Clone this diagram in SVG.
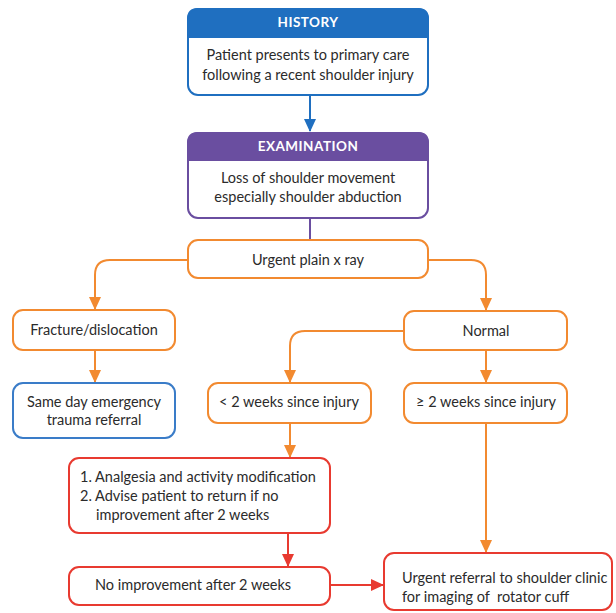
<svg xmlns="http://www.w3.org/2000/svg" width="616" height="613" viewBox="0 0 616 613">
<style>
.box{fill:#fff;stroke-width:2}
.t{font-family:Lato,"Open Sans",sans-serif;font-size:14.5px;fill:#2b2b2b}
.h{font-family:Lato,"Open Sans",sans-serif;font-size:13.5px;font-weight:bold;fill:#fff;letter-spacing:0.5px}
.c{text-anchor:middle}
.o{stroke:#f28a30;fill:none;stroke-width:2}
.r{stroke:#e83a30;fill:none;stroke-width:2}
</style>
<defs>
<marker id="ao" markerWidth="13" markerHeight="12" refX="12" refY="6" orient="auto" markerUnits="userSpaceOnUse"><path d="M0,0L13,6L0,12z" fill="#f28a30"/></marker>
<marker id="ar" markerWidth="13" markerHeight="12" refX="12" refY="6" orient="auto" markerUnits="userSpaceOnUse"><path d="M0,0L13,6L0,12z" fill="#e83a30"/></marker>
<marker id="ab" markerWidth="13" markerHeight="12" refX="12" refY="6" orient="auto" markerUnits="userSpaceOnUse"><path d="M0,0L13,6L0,12z" fill="#1f6fc0"/></marker>
</defs>
<rect width="616" height="613" fill="#fff"/>
<g id="connectors">
<line x1="310" y1="95" x2="310" y2="131" stroke="#1f6fc0" stroke-width="2" marker-end="url(#ab)"/>
<line x1="310" y1="218" x2="310" y2="240" stroke="#6a4ea0" stroke-width="2"/>
<path class="o" d="M187,260H110Q95,260 95,275V309" marker-end="url(#ao)"/>
<path class="o" d="M428,260H471Q486,260 486,275V310" marker-end="url(#ao)"/>
<line class="o" x1="95" y1="350" x2="95" y2="382" marker-end="url(#ao)"/>
<path class="o" d="M404,331H305Q290,331 290,346V382" marker-end="url(#ao)"/>
<line class="o" x1="486" y1="350" x2="486" y2="382" marker-end="url(#ao)"/>
<line class="o" x1="290" y1="423" x2="290" y2="457" marker-end="url(#ao)"/>
<line class="o" x1="486" y1="423" x2="486" y2="552" marker-end="url(#ao)"/>
<line class="r" x1="288" y1="533" x2="288" y2="566" marker-end="url(#ar)"/>
<line class="r" x1="330" y1="585" x2="383" y2="585" marker-end="url(#ar)"/>
</g>
<g id="history">
<rect x="188" y="9" width="240" height="86" rx="10" fill="#fff" stroke="#1f6fc0" stroke-width="2"/>
<path d="M188,37V19Q188,9 198,9H418Q428,9 428,19V37z" fill="#1f6fc0" stroke="#1f6fc0" stroke-width="2"/>
<text class="h c" x="308" y="27">HISTORY</text>
<text class="t c" x="308" y="60">Patient presents to primary care</text>
<text class="t c" x="308" y="80">following a recent shoulder injury</text>
</g>
<g id="examination">
<rect x="188" y="133" width="240" height="85" rx="10" fill="#fff" stroke="#6a4ea0" stroke-width="2"/>
<path d="M188,160V143Q188,133 198,133H418Q428,133 428,143V160z" fill="#6a4ea0" stroke="#6a4ea0" stroke-width="2"/>
<text class="h c" x="308" y="151">EXAMINATION</text>
<text class="t c" x="308" y="183">Loss of shoulder movement</text>
<text class="t c" x="308" y="202">especially shoulder abduction</text>
</g>
<g id="xray">
<rect class="box" x="188" y="240" width="240" height="38" rx="10" stroke="#f28a30"/>
<text class="t c" x="308" y="265">Urgent plain x ray</text>
</g>
<g id="fracture">
<rect class="box" x="13" y="310" width="162" height="40" rx="10" stroke="#f28a30"/>
<text class="t c" x="94" y="335">Fracture/dislocation</text>
</g>
<g id="sameday">
<rect class="box" x="13" y="383" width="162" height="55" rx="10" stroke="#3a7cc8"/>
<text class="t c" x="94" y="407">Same day emergency</text>
<text class="t c" x="94" y="425">trauma referral</text>
</g>
<g id="normal">
<rect class="box" x="404" y="311" width="163" height="39" rx="10" stroke="#f28a30"/>
<text class="t c" x="486" y="336">Normal</text>
</g>
<g id="lt2">
<rect class="box" x="208" y="383" width="163" height="40" rx="10" stroke="#f28a30"/>
<text class="t c" x="289" y="407">&lt; 2 weeks since injury</text>
</g>
<g id="ge2">
<rect class="box" x="404" y="383" width="163" height="40" rx="10" stroke="#f28a30"/>
<text class="t c" x="486" y="407">≥ 2 weeks since injury</text>
</g>
<g id="analgesia">
<rect class="box" x="69" y="458" width="261" height="75" rx="10" stroke="#e83a30"/>
<text class="t" x="80" y="482">1. Analgesia and activity modification</text>
<text class="t" x="80" y="501">2. Advise patient to return if no</text>
<text class="t" x="96" y="520">improvement after 2 weeks</text>
</g>
<g id="noimprovement">
<rect class="box" x="69" y="567" width="261" height="38" rx="10" stroke="#e83a30"/>
<text class="t" x="95" y="590">No improvement after 2 weeks</text>
</g>
<g id="referral">
<rect class="box" x="384" y="553" width="228" height="57" rx="10" stroke="#e83a30"/>
<text class="t" x="402" y="583">Urgent referral to shoulder clinic</text>
<text class="t" x="402" y="602" xml:space="preserve">for imaging of  rotator cuff</text>
</g>
</svg>
